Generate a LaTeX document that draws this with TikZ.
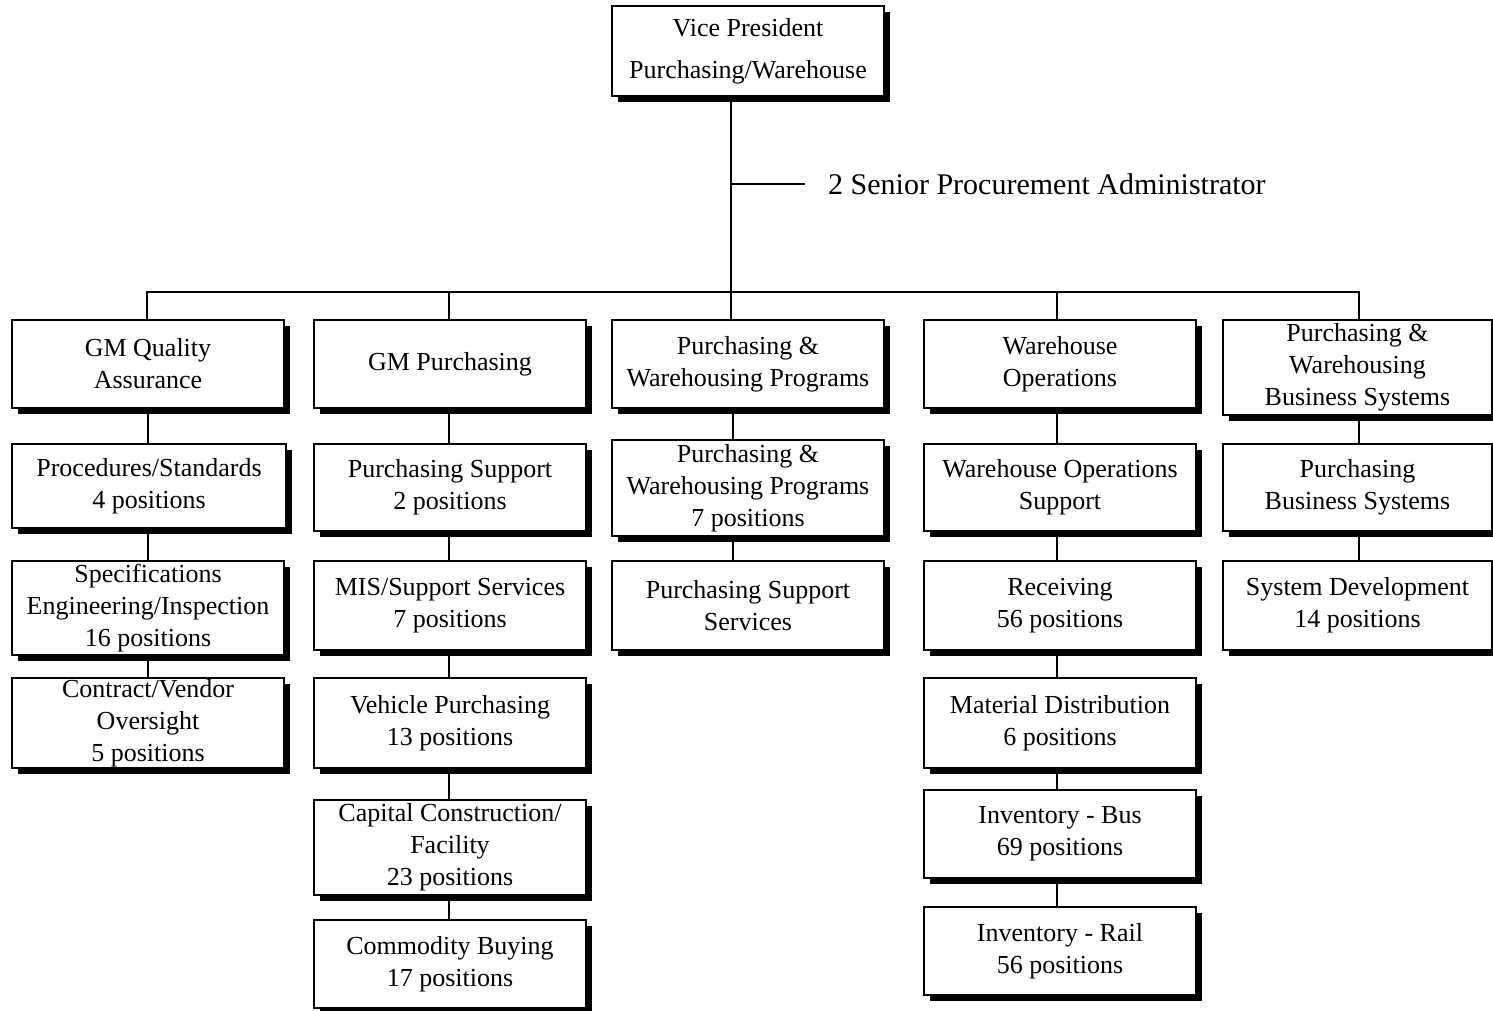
\documentclass[tikz,border=0pt]{standalone}
\usepackage{fontspec}
\setmainfont{Liberation Serif}
\usetikzlibrary{shadows,calc}
\tikzset{
  box/.style={draw, line width=1.6pt, fill=white, inner sep=0pt, align=center,
    font=\fontsize{26}{32}\selectfont,
    general shadow={fill=black, shadow xshift=6pt, shadow yshift=-6pt}},
  conn/.style={line width=1.6pt}
}
\newcommand\bx[7][]{\node[box,#1, minimum width={#5-#3}, minimum height={#6-#4}] (#2) at ({(#3+#5)/2},{(#4+#6)/2}) {#7};}
\begin{document}
\begin{tikzpicture}[x=1pt,y=-1pt]
\useasboundingbox (0,0) rectangle (1493,1010);
% top
\bx[font=\fontsize{26}{42}\selectfont]{vp}{612}{6}{884}{96}{Vice President\\Purchasing/Warehouse}
% row 1
\bx{qa}{12}{320}{284}{408}{GM Quality\\Assurance}
\bx{gmp}{314}{320}{586}{408}{GM Purchasing}
\bx{pwp}{612}{320}{884}{408}{Purchasing \&\\Warehousing Programs}
\bx{wo}{924}{320}{1196}{408}{Warehouse\\Operations}
\bx{pwbs}{1223}{320}{1492}{415}{Purchasing \&\\Warehousing\\Business Systems}
% column 1
\bx{ps}{12}{444}{286}{528}{Procedures/Standards\\4 positions}
\bx{spec}{12}{561}{284}{655}{Specifications\\Engineering/Inspection\\16 positions}
\bx{cv}{12}{678}{284}{768}{Contract/Vendor\\Oversight\\5 positions}
% column 2
\bx{psup}{314}{444}{586}{531}{Purchasing Support\\2 positions}
\bx{mis}{314}{561}{586}{650}{MIS/Support Services\\7 positions}
\bx{veh}{314}{678}{586}{768}{Vehicle Purchasing\\13 positions}
\bx{cap}{314}{800}{586}{895}{Capital Construction/\\Facility\\23 positions}
\bx{com}{314}{920}{586}{1008}{Commodity Buying\\17 positions}
% column 3
\bx{pwp2}{612}{440}{884}{536}{Purchasing \&\\Warehousing Programs\\7 positions}
\bx{pss}{612}{561}{884}{650}{Purchasing Support\\Services}
% column 4
\bx{wos}{924}{444}{1196}{531}{Warehouse Operations\\Support}
\bx{rec}{924}{561}{1196}{650}{Receiving\\56 positions}
\bx{md}{924}{678}{1196}{768}{Material Distribution\\6 positions}
\bx{ib}{924}{790}{1196}{878}{Inventory - Bus\\69 positions}
\bx{ir}{924}{907}{1196}{995}{Inventory - Rail\\56 positions}
% column 5
\bx{pbs}{1223}{444}{1492}{531}{Purchasing\\Business Systems}
\bx{sd}{1223}{561}{1492}{650}{System Development\\14 positions}
% admin label
\node[anchor=west, inner sep=0pt, font=\fontsize{30}{36}\selectfont] (adm) at (828,184) {2 Senior Procurement Administrator};
% coordinates
\coordinate (busy) at (0,292);
\coordinate (c1) at (147,0);
\coordinate (c2) at (449,0);
\coordinate (c3) at (731,0);
\coordinate (c3b) at (733,0);
\coordinate (c4) at (1057,0);
\coordinate (c5) at (1359,0);
\coordinate (admy) at (0,184);
% trunk
\draw[conn] (vp.south -| c3) -- (c3 |- busy);
\draw[conn] (c3 |- admy) -- ($(adm.west)+(-23,0)$);
\draw[conn] (qa.north -| c1) -- (c1 |- busy) -- (c5 |- busy) -- (pwbs.north -| c5);
\draw[conn] (gmp.north -| c2) -- (c2 |- busy);
\draw[conn] (pwp.north -| c3) -- (c3 |- busy);
\draw[conn] (wo.north -| c4) -- (c4 |- busy);
% column connectors
\draw[conn] (qa.south) -- (ps.north -| qa.south);
\draw[conn] (ps.south -| spec.north) -- (spec.north);
\draw[conn] (spec.south) -- (cv.north);
\draw[conn] (gmp.south -| c2) -- (psup.north -| c2);
\draw[conn] (psup.south -| c2) -- (mis.north -| c2);
\draw[conn] (mis.south -| c2) -- (veh.north -| c2);
\draw[conn] (veh.south -| c2) -- (cap.north -| c2);
\draw[conn] (cap.south -| c2) -- (com.north -| c2);
\draw[conn] (pwp.south -| c3b) -- (pwp2.north -| c3b);
\draw[conn] (pwp2.south -| c3b) -- (pss.north -| c3b);
\draw[conn] (wo.south -| c4) -- (wos.north -| c4);
\draw[conn] (wos.south -| c4) -- (rec.north -| c4);
\draw[conn] (rec.south -| c4) -- (md.north -| c4);
\draw[conn] (md.south -| c4) -- (ib.north -| c4);
\draw[conn] (ib.south -| c4) -- (ir.north -| c4);
\draw[conn] (pwbs.south -| c5) -- (pbs.north -| c5);
\draw[conn] (pbs.south -| c5) -- (sd.north -| c5);
\end{tikzpicture}
\end{document}
